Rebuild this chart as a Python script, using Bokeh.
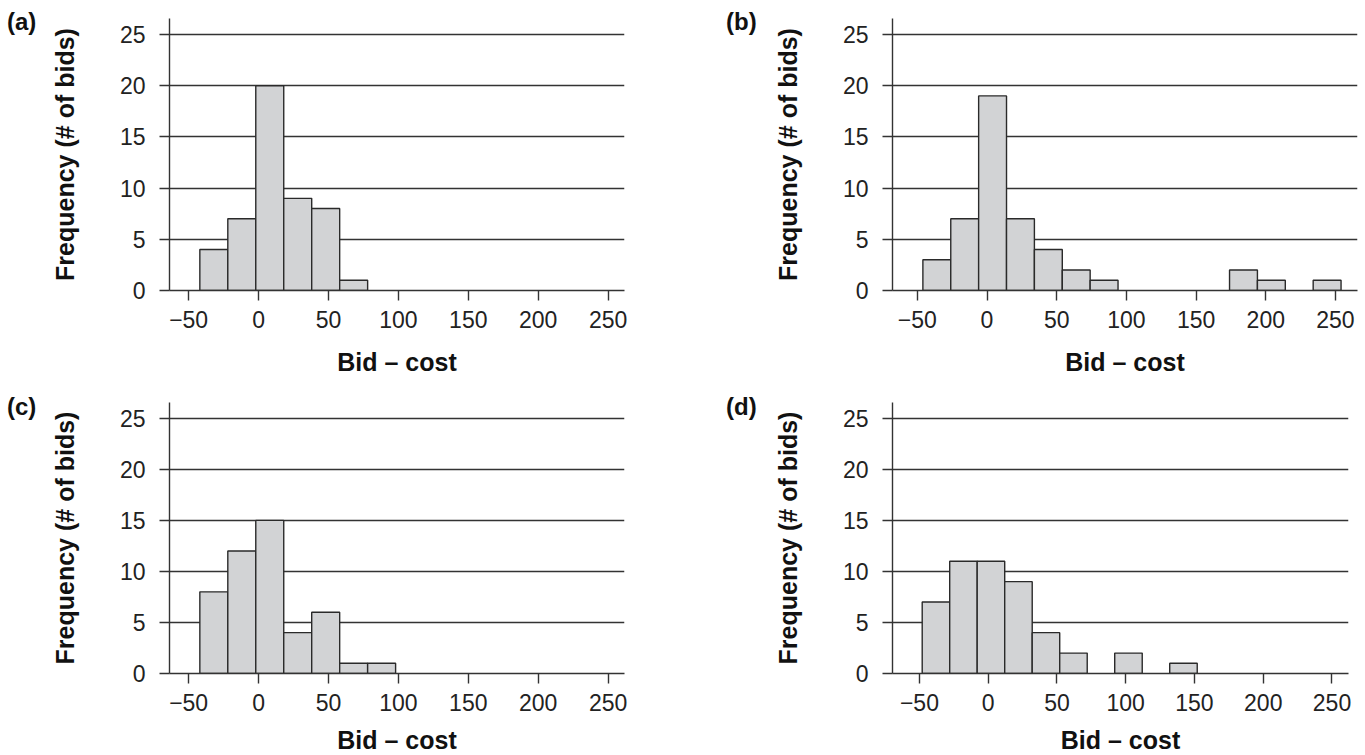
from bokeh.plotting import figure
from bokeh.models import Range1d, FixedTicker, ColumnDataSource, Div
from bokeh.layouts import column, row
from bokeh.embed import file_html
from bokeh.resources import INLINE

# ---- data ----
panel_names = ["(a)", "(b)", "(c)", "(d)"]
a_edges = [-42, -22, -2, 18, 38, 58, 78]
a_counts = [4, 7, 20, 9, 8, 1]
b_edges = [-46, -26, -6, 14, 34, 54, 74, 94, 114, 134, 154, 174, 194, 214, 234, 254]
b_counts = [3, 7, 19, 7, 4, 2, 1, 0, 0, 0, 0, 2, 1, 0, 1]
c_edges = [-42, -22, -2, 18, 38, 58, 78, 98]
c_counts = [8, 12, 15, 4, 6, 1, 1]
d_edges = [-48, -28, -8, 12, 32, 52, 72, 92, 112, 132, 152]
d_counts = [7, 11, 11, 9, 4, 2, 0, 2, 0, 1]
x_ticks = [-50, 0, 50, 100, 150, 200, 250]
y_ticks = [0, 5, 10, 15, 20, 25]
x_title = "Bid \u2013 cost"
y_title = "Frequency (# of bids)"

FONT = "Liberation Sans"
DARK = "#333333"
BAR_FILL = "#d2d3d5"


def make_panel(edges, counts, xr, y_top, fw, fh, bl, br, bt, bb, xl_standoff):
    keep = [i for i, c in enumerate(counts) if c > 0]
    src = ColumnDataSource(dict(
        left=[edges[i] for i in keep],
        right=[edges[i + 1] for i in keep],
        top=[counts[i] for i in keep],
    ))
    p = figure(frame_width=fw, frame_height=fh,
               x_range=Range1d(*xr), y_range=Range1d(0, y_top),
               output_backend="svg", toolbar_location=None,
               min_border_left=bl, min_border_right=br,
               min_border_top=bt, min_border_bottom=bb)
    p.outline_line_color = None
    p.background_fill_color = "white"
    p.border_fill_color = "white"

    p.quad(left="left", right="right", top="top", bottom=0, source=src,
           fill_color=BAR_FILL, line_color="#2a2a2a", line_width=1.4)

    p.xgrid.visible = False
    p.ygrid.ticker = FixedTicker(ticks=y_ticks)
    p.ygrid.grid_line_color = DARK
    p.ygrid.grid_line_width = 1.4

    for ax in (p.xaxis[0], p.yaxis[0]):
        ax.axis_line_color = DARK
        ax.axis_line_width = 1.4
        ax.major_tick_line_color = DARK
        ax.major_tick_line_width = 1.4
        ax.major_tick_in = 0
        ax.major_tick_out = 10
        ax.minor_tick_line_color = None
        ax.major_label_text_font = FONT
        ax.major_label_text_font_size = "23px"
        ax.major_label_text_color = "#222222"
        ax.axis_label_text_font = FONT
        ax.axis_label_text_font_size = "25px"
        ax.axis_label_text_font_style = "bold"
        ax.axis_label_text_color = "#111111"

    p.xaxis.ticker = FixedTicker(ticks=x_ticks)
    p.yaxis.ticker = FixedTicker(ticks=y_ticks)
    p.xaxis.major_label_standoff = 10
    p.yaxis.major_label_standoff = 14
    p.xaxis.axis_label = x_title
    p.yaxis.axis_label = y_title
    p.xaxis.axis_label_standoff = xl_standoff
    p.yaxis.axis_label_standoff = 38
    return p


def panel_tag(text, width, height, pad_left, pad_top):
    inner = (f'<div style="padding:{pad_top}px 0 0 {pad_left}px; '
             f'font-family:\'{FONT}\'; font-size:24px; font-weight:bold; '
             f'color:#111111; line-height:1.15; white-space:nowrap;">{text}</div>')
    return Div(text=inner, width=width, height=height, styles={"margin": "0"})


pa = make_panel(a_edges, a_counts, (-63.7, 261.7), 26.56,
                455, 272, 129, 76, 18, 96, 17)
pb = make_panel(b_edges, b_counts, (-67.8, 265.8), 26.56,
                465, 272, 118, 8, 18, 96, 17)
pc = make_panel(c_edges, c_counts, (-63.7, 261.7), 26.55,
                455, 271, 129, 76, 16, 82, 12)
pd = make_panel(d_edges, d_counts, (-69.6, 262.0), 26.55,
                456, 271, 120, 15, 16, 82, 12)

ta = panel_tag(panel_names[0], 40, 40, 7, 8)
tb = panel_tag(panel_names[1], 70, 40, 26, 8)
tc = panel_tag(panel_names[2], 40, 40, 7, 7)
td = panel_tag(panel_names[3], 70, 40, 26, 7)

layout = column(row(ta, pa, tb, pb), row(tc, pc, td, pd))
open("out.html", "w").write(file_html(layout, INLINE))
